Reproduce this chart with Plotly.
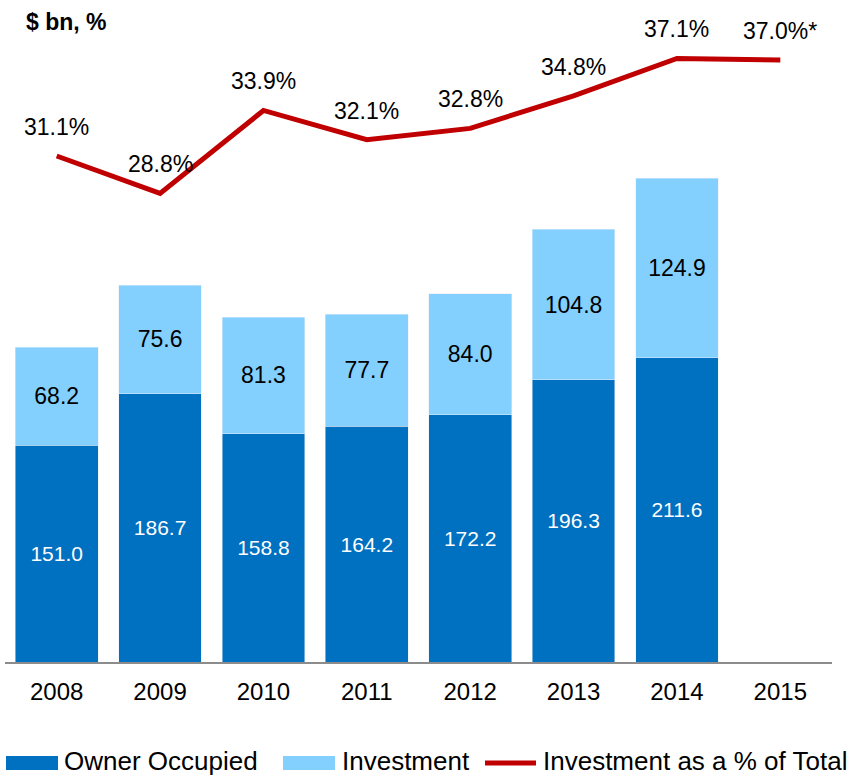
import plotly.graph_objects as go

years = ["2008", "2009", "2010", "2011", "2012", "2013", "2014", "2015"]
bar_years = years[:7]
owner = [151.0, 186.7, 158.8, 164.2, 172.2, 196.3, 211.6]
investment = [68.2, 75.6, 81.3, 77.7, 84.0, 104.8, 124.9]
pct = [31.1, 28.8, 33.9, 32.1, 32.8, 34.8, 37.1, 37.0]
pct_labels = ["31.1%", "28.8%", "33.9%", "32.1%", "32.8%", "34.8%", "37.1%", "37.0%*"]
legend_names = ["Owner Occupied", "Investment", "Investment as a % of Total"]

FONT = "Liberation Sans, Arial, sans-serif"
OWNER_C = "#0070C0"
INV_C = "#83D0FF"
LINE_C = "#C00000"

W, H = 859, 777
ML, MR, MT, MB = 5, 27, 20, 115
PW, PH = W - ML - MR, H - MT - MB


def px_x(p):
    return (p - ML) / PW


def px_y(p):
    return (H - MB - p) / PH


fig = go.Figure()
fig.add_trace(go.Bar(
    x=bar_years, y=owner, name=legend_names[0], marker_color=OWNER_C,
    text=[f"{v:.1f}" for v in owner], textposition="inside",
    insidetextanchor="middle", textangle=0,
    textfont=dict(family=FONT, size=21, color="white"),
    width=0.8, showlegend=False,
))
fig.add_trace(go.Bar(
    x=bar_years, y=investment, name=legend_names[1], marker_color=INV_C,
    text=[f"{v:.1f}" for v in investment], textposition="inside",
    insidetextanchor="middle", textangle=0,
    textfont=dict(family=FONT, size=23, color="black"),
    width=0.8, showlegend=False,
))
fig.add_trace(go.Scatter(
    x=years, y=pct, name=legend_names[2], mode="lines",
    line=dict(color=LINE_C, width=5), yaxis="y2", showlegend=False,
))

for i, (y, t) in enumerate(zip(pct, pct_labels)):
    fig.add_annotation(x=i, y=y, xref="x", yref="y2", text=t, showarrow=False,
                       yshift=29, font=dict(family=FONT, size=23, color="black"))

fig.add_annotation(x=px_x(24), y=px_y(22), xref="paper", yref="paper", xanchor="left",
                   yanchor="middle", text="<b>$ bn, %</b>", showarrow=False,
                   font=dict(family=FONT, size=23, color="black"))

# Custom legend (wide swatches as in the reference)
fig.add_shape(type="rect", xref="paper", yref="paper",
              x0=px_x(6), x1=px_x(58), y0=px_y(770), y1=px_y(756),
              fillcolor=OWNER_C, line_width=0)
fig.add_shape(type="rect", xref="paper", yref="paper",
              x0=px_x(283), x1=px_x(335), y0=px_y(770), y1=px_y(756),
              fillcolor=INV_C, line_width=0)
fig.add_shape(type="line", xref="paper", yref="paper",
              x0=px_x(485), x1=px_x(536), y0=px_y(763), y1=px_y(763),
              line=dict(color=LINE_C, width=5))
for name, xp in zip(legend_names, [62, 340, 541]):
    fig.add_annotation(x=px_x(xp), y=px_y(761), xref="paper", yref="paper",
                       xanchor="left", yanchor="middle", text=name, showarrow=False,
                       font=dict(family=FONT, size=26, color="black"))

fig.update_layout(
    width=W, height=H,
    margin=dict(l=ML, r=MR, t=MT, b=MB, autoexpand=False),
    barmode="stack", bargap=0.2,
    plot_bgcolor="white", paper_bgcolor="white",
    font=dict(family=FONT, size=24, color="black"),
    xaxis=dict(type="category", range=[-0.5, 7.5], showline=True,
               linecolor="#8c8c8c", linewidth=2, ticks="", showgrid=False,
               tickfont=dict(size=24), ticklabelstandoff=7, automargin=False),
    yaxis=dict(range=[0, 446.8], visible=False, showgrid=False),
    yaxis2=dict(range=[0, 39.46], overlaying="y", visible=False, showgrid=False),
    showlegend=False,
)

fig.write_html(
    "out.html",
    config={"displayModeBar": False},
    post_script="document.body.style.margin='0';document.body.style.padding='0';"
                "document.body.style.overflow='hidden';",
)
